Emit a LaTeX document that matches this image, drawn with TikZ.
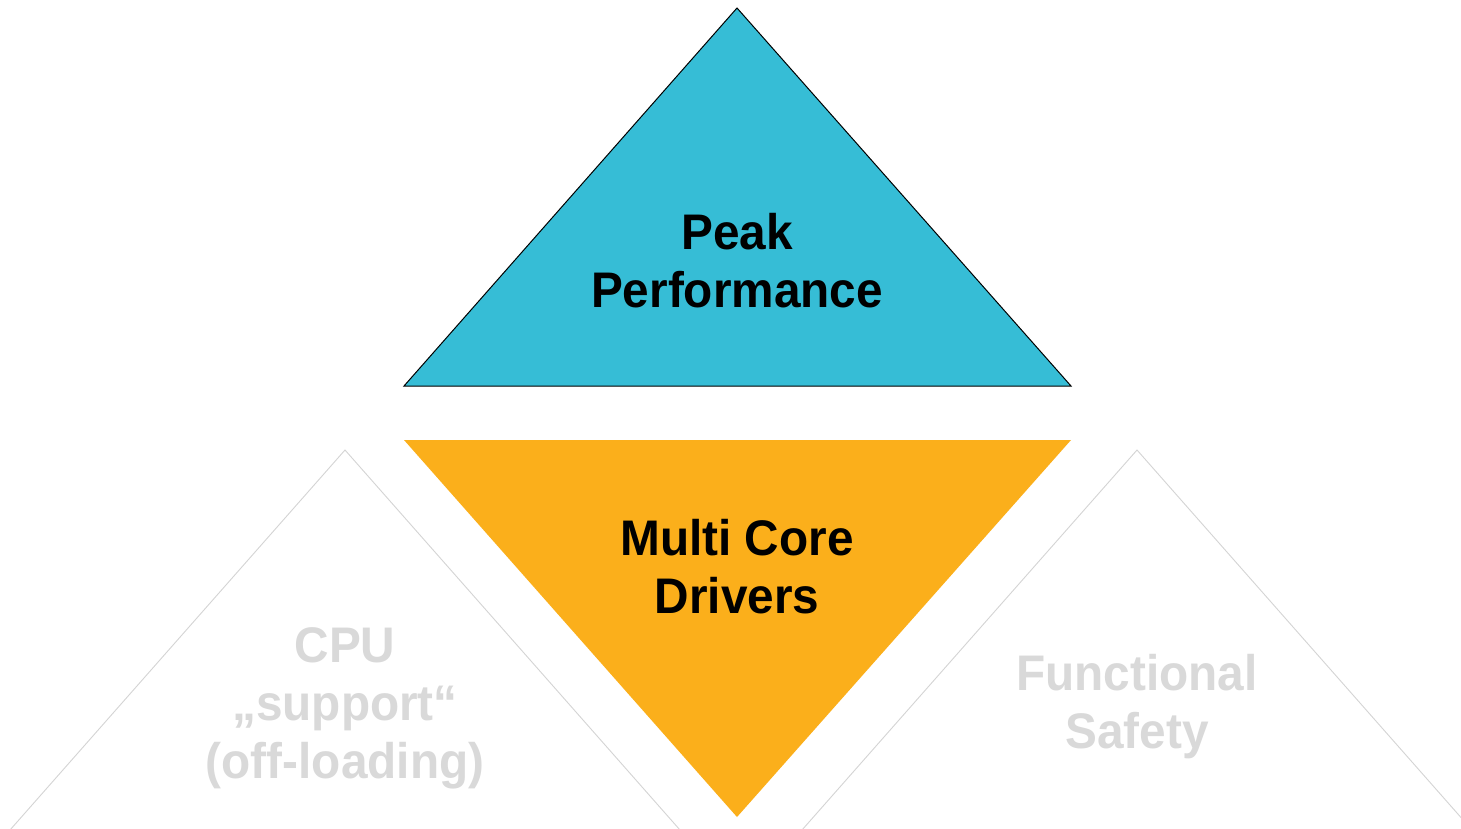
\documentclass[tikz,border=0pt]{standalone}
\usepackage{fontspec}
\setmainfont{Liberation Sans}
\newfontfamily\labelfont[FakeStretch=0.955]{Liberation Sans}
\definecolor{peakblue}{HTML}{36BDD6}
\definecolor{coreorange}{HTML}{FBAF1B}
\definecolor{fadedgray}{HTML}{D9D9D9}
\definecolor{fadedline}{HTML}{D4D4D4}
\begin{document}
\begin{tikzpicture}[x=1pt,y=-1pt,
  label text/.style={inner sep=0pt, align=center,
    font=\labelfont\bfseries\fontsize{50}{58}\selectfont},
  active text/.style={label text, text=black},
  faded text/.style={label text, text=fadedgray},
  faded tri/.style={draw=fadedline, line width=0.9pt, line join=miter},
]
\useasboundingbox (0,0) rectangle (1461,828);
\clip (0,0) rectangle (1461,828);

% background white
\fill[white] (0,0) rectangle (1461,828);

% corner points
\coordinate (pk-apex) at (737,8);
\coordinate (pk-l) at (404,386);
\coordinate (pk-r) at (1071,386);
\coordinate (mc-l) at (404,440);
\coordinate (mc-r) at (1071,440);
\coordinate (mc-apex) at (737,817);
\coordinate (cpu-apex) at (345,450);
\coordinate (cpu-l) at (10,830);
\coordinate (cpu-r) at (680,830);
\coordinate (fs-apex) at (1137,450);
\coordinate (fs-l) at (802,830);
\coordinate (fs-r) at (1472,830);

% faded side triangles (only the two slanted edges show)
\draw[faded tri] (cpu-l) -- (cpu-apex) -- (cpu-r);
\draw[faded tri] (fs-l) -- (fs-apex) -- (fs-r);

% peak performance triangle
\filldraw[fill=peakblue, draw=black, line width=1pt, line join=miter]
  (pk-apex) -- (pk-r) -- (pk-l) -- cycle;

% multi core drivers triangle
\fill[coreorange] (mc-l) -- (mc-r) -- (mc-apex) -- cycle;

% labels
\node[active text] (peak) at (737,261) {Peak\\Performance};
\node[active text] (multicore) at (737,567) {Multi Core\\Drivers};
\node[faded text] (cpu) at (345,708) {CPU\\„support“\\(off-loading)};
\node[faded text] (safety) at (1137,707) {Functional\\Safety};
\end{tikzpicture}
\end{document}
